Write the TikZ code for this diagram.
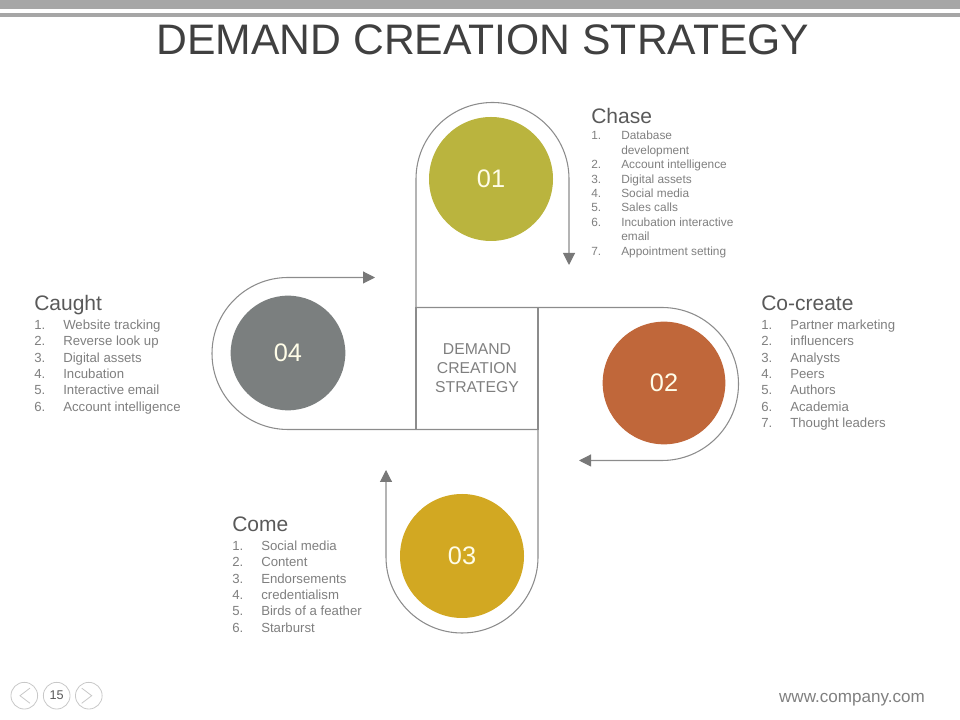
\documentclass[tikz,border=0pt]{standalone}
\usepackage{fontspec}
\setmainfont{Liberation Sans}
\usepackage{array}
\usepackage{tikz}
\usetikzlibrary{arrows.meta,positioning,calc}
\definecolor{bargray}{RGB}{166,166,166}
\definecolor{titlegray}{RGB}{64,64,64}
\definecolor{headgray}{RGB}{89,89,89}
\definecolor{textgray}{RGB}{127,127,127}
\definecolor{linegray}{RGB}{140,140,140}
\definecolor{tipgray}{RGB}{120,120,120}
\definecolor{navgray}{RGB}{200,200,200}
\definecolor{olivedisc}{RGB}{186,180,62}
\definecolor{rustdisc}{RGB}{192,103,58}
\definecolor{golddisc}{RGB}{210,168,34}
\definecolor{slatedisc}{RGB}{123,127,127}
\definecolor{digitcream}{RGB}{255,253,232}

\begin{document}
\begin{tikzpicture}[x=0.75pt, y=0.75pt,
    loopline/.style={draw=linegray, line width=0.8pt},
    looptip/.style={-{Triangle[length=9pt, width=9pt, color=tipgray]}},
    stepdisc/.style={circle, inner sep=0pt, text=digitcream, font=\fontsize{19}{19}\selectfont},
    headnode/.style={anchor=base west, inner sep=0pt, text=headgray, font=\fontsize{15.75}{18}\selectfont},
    listnode/.style={anchor=base west, inner sep=0pt, text=textgray, font=\fontsize{9.9}{12.2}\selectfont},
    navdisc/.style={circle, draw=navgray, line width=0.6pt, minimum size=20pt, inner sep=0pt, text=headgray, font=\fontsize{9.5}{9.5}\selectfont}]
    \useasboundingbox (0,0) rectangle (960,720);

    % Header bars and title
    \fill[bargray] (0,711) rectangle (960,720);
    \fill[bargray] (0,703.3) rectangle (960,707);
    \node[anchor=base, inner sep=0pt, text=titlegray, font=\fontsize{32}{32}\selectfont] (title) at (483,665.7) {DEMAND CREATION STRATEGY};

    % Central square
    \node[draw=linegray, line width=0.8pt, minimum size=91.5pt, inner sep=0pt, outer sep=0pt, align=center,
          text=textgray, font=\fontsize{11.8}{14.25}\selectfont] (core) at (477,351.5) {DEMAND\\CREATION\\STRATEGY};

    % Arrow tips of the four loops
    \coordinate (tip1) at (569,455);
    \coordinate (tip2) at (579,259.5);
    \coordinate (tip3) at (386,250);
    \coordinate (tip4) at (375,442.5);

    % Pinwheel loops, one from each corner of the square
    \draw[loopline, looptip] (core.south west) -- ++(0,250.5) arc[start angle=180, end angle=0, radius=76.5] -- (tip1);
    \draw[loopline, looptip] (core.north west) -- ++(246,0) arc[start angle=90, end angle=-90, radius=76.5] -- (tip2);
    \draw[loopline, looptip] (core.north east) -- ++(0,-249.5) arc[start angle=0, end angle=-180, radius=76] -- (tip3);
    \draw[loopline, looptip] (core.south east) -- ++(-250,0) arc[start angle=270, end angle=90, radius=76] -- (tip4);

    % Step discs
    \node[stepdisc, fill=olivedisc, minimum size=93pt] (step01) at (491,541) {01};
    \node[stepdisc, fill=rustdisc, minimum size=92pt] (step02) at (664,337) {02};
    \node[stepdisc, fill=golddisc, minimum size=93pt] (step03) at (462,164) {03};
    \node[stepdisc, fill=slatedisc, minimum size=86pt] (step04) at (288,367) {04};

    % Chase
    \node[headnode] (chase) at (591,596.7) {Chase};
    \node[listnode, font=\fontsize{8.9}{10.8}\selectfont] (chaselist) at (591,580) {%
        \begin{tabular}[t]{@{}p{22.5pt}@{}>{\raggedright\arraybackslash}p{88pt}@{}}
        1. & Database development\\
        2. & Account intelligence\\
        3. & Digital assets\\
        4. & Social media\\
        5. & Sales calls\\
        6. & Incubation interactive email\\
        7. & Appointment setting
        \end{tabular}};

    % Co-create
    \node[headnode] (cocreate) at (761,409) {Co-create};
    \node[listnode] (cocreatelist) at (761,390.3) {%
        \begin{tabular}[t]{@{}p{21.75pt}@{}l@{}}
        1. & Partner marketing\\
        2. & influencers\\
        3. & Analysts\\
        4. & Peers\\
        5. & Authors\\
        6. & Academia\\
        7. & Thought leaders
        \end{tabular}};

    % Come
    \node[headnode] (come) at (232,188.5) {Come};
    \node[listnode] (comelist) at (232,169.3) {%
        \begin{tabular}[t]{@{}p{21.75pt}@{}l@{}}
        1. & Social media\\
        2. & Content\\
        3. & Endorsements\\
        4. & credentialism\\
        5. & Birds of a feather\\
        6. & Starburst
        \end{tabular}};

    % Caught
    \node[headnode] (caught) at (34,409) {Caught};
    \node[listnode] (caughtlist) at (34,390.3) {%
        \begin{tabular}[t]{@{}p{21.75pt}@{}l@{}}
        1. & Website tracking\\
        2. & Reverse look up\\
        3. & Digital assets\\
        4. & Incubation\\
        5. & Interactive email\\
        6. & Account intelligence
        \end{tabular}};

    % Page navigation
    \node[navdisc] (prev) at (24.3,24.3) {};
    \node[navdisc] (page) at (56.7,24.3) {15};
    \node[navdisc] (next) at (88.8,24.3) {};
    \draw[navgray, line width=0.6pt] ($(prev)+(5.7,7.6)$) -- ($(prev)+(-4.3,0)$) -- ($(prev)+(5.7,-7.6)$);
    \draw[navgray, line width=0.6pt] ($(next)+(-7.1,7.6)$) -- ($(next)+(2.9,0)$) -- ($(next)+(-7.1,-7.6)$);

    % Footer
    \node[inner sep=0pt, text=textgray, font=\fontsize{12.8}{12.8}\selectfont] (url) at (852,20) {www.company.com};
\end{tikzpicture}
\end{document}
